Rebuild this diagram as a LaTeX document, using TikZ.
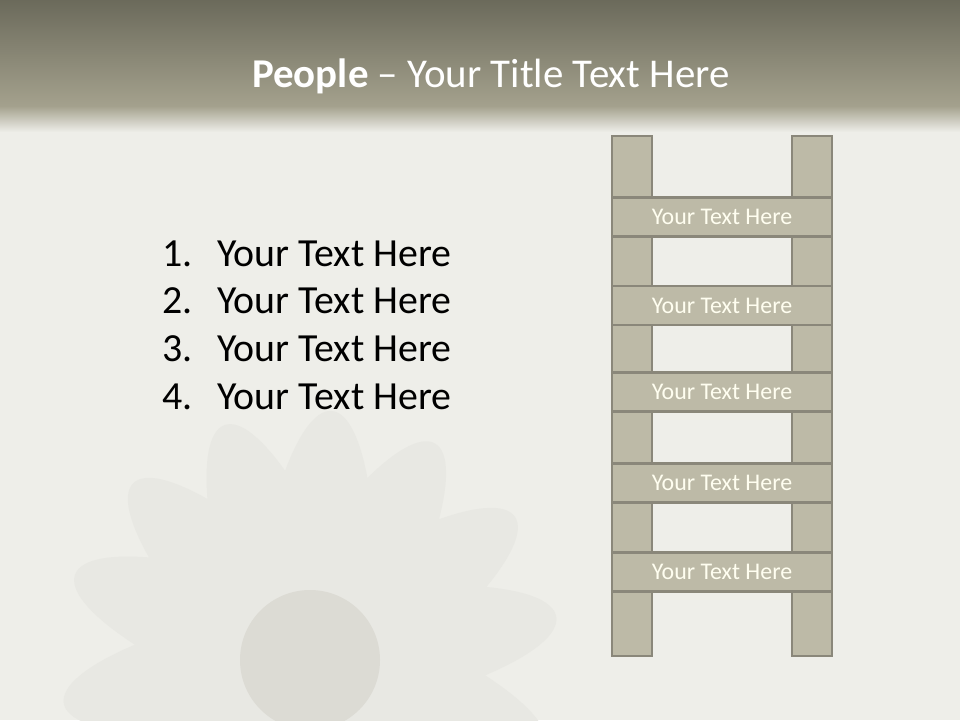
\documentclass[tikz,border=0pt]{standalone}
\usepackage{fontspec}
\setmainfont{Carlito}
\definecolor{paper}{HTML}{EEEEE9}
\definecolor{bandtop}{HTML}{6B6A5B}
\definecolor{bandlow}{HTML}{A4A18D}
\definecolor{woodfill}{HTML}{BDBAA7}
\definecolor{woodedge}{HTML}{8A877A}
\definecolor{petal}{HTML}{E8E8E3}
\definecolor{seed}{HTML}{DCDBD4}
\begin{document}
\begin{tikzpicture}[x=0.02646cm,y=-0.02646cm,
every node/.style={inner sep=0pt},
rail/.style={draw=woodedge,line width=2pt,fill=woodfill,minimum width=1.06cm,minimum height=13.76cm},
rung/.style={draw=woodedge,line width=2pt,fill=woodfill,minimum width=5.82cm,minimum height=1.03cm,
  text=white!94!yellow,font=\fontsize{18}{21}\selectfont},
item/.style={anchor=base west,font=\fontsize{30}{36}\selectfont}]
\useasboundingbox (0,0) rectangle (960,720);
\clip (0,0) rectangle (960,720);
% background and title band
\fill[paper] (0,0) rectangle (960,720);
% faint flower
\foreach \a in {20,45,70,95,120,145,170}
  \fill[petal,rotate around={-\a:(310,660)}] (310,660) ellipse (250 and 62);
\fill[seed] (310,660) circle (70);
\shade[top color=bandtop,bottom color=bandlow] (0,0) rectangle (960,106);
\shade[top color=bandlow,bottom color=paper] (0,106) rectangle (960,132);
\node[font=\fontsize{30.8}{36}\selectfont,text=white] (title) at (491,76) {\textbf{People} -- Your Title Text Here};
% list
\foreach \i in {1,...,4} {
  \node[item] (num\i) at (162,{266+47.7*(\i-1)}) {\i.};
  \node[item] (txt\i) at (217,{266+47.7*(\i-1)}) {Your Text Here};
}
% ladder
\node[rail] (lrail) at (632,396) {};
\node[rail] (rrail) at (812,396) {};
\foreach \y [count=\k] in {217,305.5,392,483,572}
  \node[rung] (rung\k) at (722,\y) {Your Text Here};
\end{tikzpicture}
\end{document}
